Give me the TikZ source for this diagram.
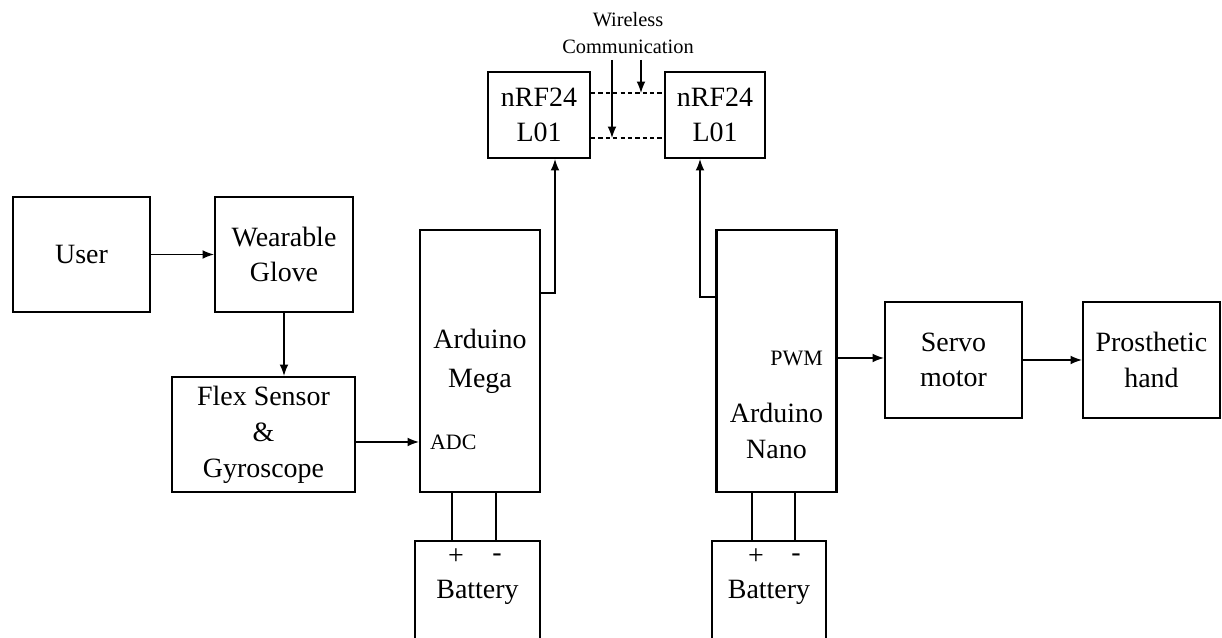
\documentclass[tikz,border=0pt]{standalone}
\usepackage{fontspec}
\setmainfont{Liberation Serif}
\usetikzlibrary{arrows.meta}

\begin{document}
\begin{tikzpicture}[x=1cm, y=1cm,
			>={Latex[length=6.5pt, width=5pt]},   %Pfeilspitzen
			block/.style={draw, line width=1.2pt, inner sep=0pt, align=center, font=\fontsize{15.9}{20}\selectfont},
			pin/.style={inner sep=1pt, font=\fontsize{12.5}{14}\selectfont},
			sign/.style={inner sep=0pt, font=\fontsize{15.9}{18}\selectfont},
			link/.style={line width=0.75pt}]
			%Bildbereich
			\useasboundingbox (0,0) rectangle (24.44,12.76);
			\clip (0,0) rectangle (24.44,12.76);
			% Bloecke
			\node[block, minimum width=2.74cm, minimum height=2.30cm] (user) at (1.63,7.67) {User};
			\node[block, minimum width=2.76cm, minimum height=2.30cm] (glove) at (5.68,7.67) {Wearable\\Glove};
			\node[block, minimum width=3.66cm, minimum height=2.30cm, font=\fontsize{15.9}{20.5}\selectfont] (flex) at (5.27,4.07) {Flex Sensor\\\&\\Gyroscope};
			\node[block, minimum width=2.40cm, minimum height=5.24cm, font=\fontsize{15.9}{22}\selectfont] (mega) at (9.60,5.54) {Arduino\\Mega};
			\node[block, minimum width=2.40cm, minimum height=5.24cm] (nano) at (15.53,5.54) {};
			\node[align=center, font=\fontsize{15.9}{20}\selectfont] (nanotxt) at (15.53,4.14) {Arduino\\Nano};
			\node[block, minimum width=2.04cm, minimum height=1.72cm] (rfa) at (10.78,10.46) {nRF24\\L01};
			\node[block, minimum width=2.00cm, minimum height=1.72cm] (rfb) at (14.30,10.46) {nRF24\\L01};
			\node[block, minimum width=2.74cm, minimum height=2.32cm] (servo) at (19.07,5.56) {Servo\\motor};
			\node[block, minimum width=2.74cm, minimum height=2.32cm] (hand) at (23.03,5.56) {Prosthetic\\hand};
			\node[block, minimum width=2.50cm, minimum height=2.04cm, anchor=north] (batl) at (9.55,1.96) {Battery};
			\node[block, minimum width=2.28cm, minimum height=2.04cm, anchor=north] (batr) at (15.38,1.96) {Battery};
			% Anschluesse
			\node[pin, anchor=west] (adc) at (8.56,3.92) {ADC};
			\node[pin, anchor=east] (pwm) at (16.50,5.60) {PWM};
			\node[align=center, font=\fontsize{11.6}{15.3}\selectfont] (wl) at (12.56,12.10) {Wireless\\Communication};
			% Batteriepole
			\coordinate (lp) at (9.04,1.96);
			\coordinate (lm) at (9.92,1.96);
			\coordinate (rp) at (15.04,1.96);
			\coordinate (rm) at (15.90,1.96);
			\node[sign] (lplus) at ([xshift=0.08cm, yshift=-0.34cm]lp) {+};
			\node[sign] (lminus) at ([xshift=0.02cm, yshift=-0.36cm]lm) {-};
			\node[sign] (rplus) at ([xshift=0.08cm, yshift=-0.34cm]rp) {+};
			\node[sign] (rminus) at ([xshift=0.02cm, yshift=-0.36cm]rm) {-};
			\draw[link] (mega.south -| lp) -- (lp);
			\draw[link] (mega.south -| lm) -- (lm);
			\draw[link] (nano.south -| rp) -- (rp);
			\draw[link] (nano.south -| rm) -- (rm);
			% Signalfluss
			\draw[link,->] (user) -- (glove);
			\draw[link,->] (glove.south) -- (glove.south |- flex.north);
			\draw[link,->] (flex.east |- adc) -- (mega.west |- adc);
			\draw[link,->] ([yshift=1.36cm]mega.east) -| ([xshift=0.32cm]rfa.south);
			\draw[link,->] ([yshift=1.28cm]nano.west) -| ([xshift=-0.30cm]rfb.south);
			\draw[link,->] (nano.east |- pwm) -- (servo.west |- pwm);
			\draw[link,->] (servo) -- (hand);
			% Funkstrecke
			\draw[link, dash pattern=on 2.4pt off 1.8pt] ([yshift=0.44cm]rfa.east) -- ([yshift=0.44cm]rfb.west);
			\draw[link, dash pattern=on 2.4pt off 1.8pt] ([yshift=-0.46cm]rfa.east) -- ([yshift=-0.46cm]rfb.west);
			\coordinate (wa) at (12.24,10.00);
			\coordinate (wb) at (12.82,10.90);
			\draw[link,->] (wl.south -| wa) -- (wa);
			\draw[link,->] (wl.south -| wb) -- (wb);
		\end{tikzpicture}
\end{document}
